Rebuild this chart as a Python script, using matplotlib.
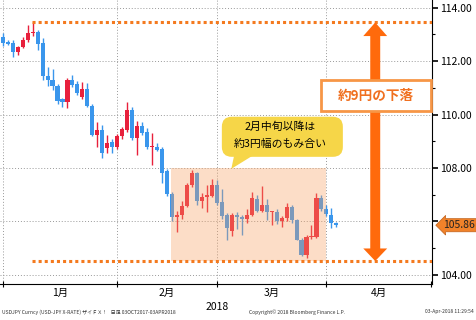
"""
USDJPY daily candles, Jan-Apr 2018, with annotation of the 9-yen drop
"""

import numpy as np
import matplotlib
matplotlib.use('Agg')
import matplotlib.pyplot as plt
from matplotlib.patches import Rectangle, FancyBboxPatch, Polygon
import matplotlib.transforms as mtransforms

plt.rcParams['font.family'] = ['Noto Sans CJK JP', 'DejaVu Sans']

# daily OHLC, 29 Dec 2017 .. 03 Apr 2018 (business days)
opens = [112.92, 112.73, 112.67, 112.34, 112.54, 112.79, 113.06, 113.10, 112.68, 111.45,
         111.30, 111.08, 110.58, 110.49, 111.30, 111.15, 110.67, 110.95, 110.33, 109.24,
         109.43, 108.74, 108.99, 108.80, 109.20, 109.43, 110.18, 109.14, 109.58, 109.36,
         108.77, 108.80, 108.71, 107.88, 107.03, 106.16, 106.25, 106.59, 107.37, 107.81,
         106.75, 106.91, 106.96, 107.37, 106.72, 106.25, 105.66, 106.25, 106.16, 106.09,
         106.25, 106.83, 106.41, 106.60, 106.35, 106.35, 106.00, 106.13, 106.56, 106.06,
         105.32, 104.75, 105.42, 105.43, 106.87, 106.46, 106.25, 105.94]
highs = [113.04, 112.80, 112.80, 112.58, 112.92, 113.35, 113.47, 113.17, 112.85, 111.80,
         111.72, 111.15, 110.62, 111.38, 111.48, 111.25, 111.23, 111.18, 110.40, 109.74,
         109.62, 109.24, 109.10, 109.28, 109.55, 110.49, 110.29, 109.75, 109.74, 109.50,
         109.32, 108.95, 108.78, 107.95, 107.10, 106.40, 106.75, 107.45, 107.93, 107.85,
         107.05, 107.35, 107.58, 107.55, 107.20, 106.30, 106.30, 106.35, 106.25, 106.45,
         107.10, 107.00, 107.31, 106.85, 106.40, 106.45, 106.20, 106.70, 106.60, 106.10,
         105.40, 105.50, 105.88, 107.06, 107.00, 106.60, 106.50, 105.98]
lows = [112.55, 112.60, 112.17, 112.23, 112.50, 112.70, 112.95, 112.42, 111.30, 111.08,
        110.92, 110.40, 110.30, 110.25, 111.05, 110.75, 110.58, 110.30, 109.20, 108.80,
        108.38, 108.57, 108.57, 108.70, 109.10, 109.35, 109.05, 108.49, 109.25, 108.70,
        108.11, 108.62, 107.45, 106.95, 106.00, 105.59, 106.10, 106.55, 107.30, 106.60,
        106.50, 106.35, 106.90, 106.60, 106.10, 105.32, 105.45, 105.70, 105.50, 105.95,
        106.20, 106.35, 106.35, 106.05, 105.88, 105.90, 105.80, 106.00, 105.95, 105.30,
        104.69, 104.63, 105.35, 105.40, 106.40, 106.20, 105.75, 105.80]
closes = [112.67, 112.64, 112.34, 112.54, 112.79, 113.05, 113.10, 112.65, 111.45, 111.30,
          111.08, 110.52, 110.49, 111.30, 111.12, 110.82, 110.95, 110.33, 109.25, 109.43,
          108.58, 108.95, 108.80, 109.20, 109.45, 110.18, 109.14, 109.58, 109.30, 108.77,
          108.81, 108.68, 107.83, 107.03, 106.17, 106.25, 106.59, 107.37, 107.81, 106.75,
          106.91, 107.00, 107.37, 106.69, 106.22, 105.75, 106.25, 106.16, 106.09, 106.25,
          106.87, 106.41, 106.60, 106.35, 106.38, 106.03, 106.13, 106.56, 106.06, 105.32,
          104.75, 105.42, 105.45, 106.87, 106.46, 106.29, 105.96, 105.86]

month_labels = ['1月', '2月', '3月', '4月']
month_ends = [0, 23, 43, 65, 86]      # index of last business day of each month
y_ticks = [104, 106, 108, 110, 112, 114]
y_ticklabels = ['104.00', '', '108.00', '110.00', '112.00', '114.00']
last_price = 105.86
range_top, range_bottom = 113.45, 104.52     # high / low marked by the dotted lines
box_lo, box_hi = 104.52, 108.0               # consolidation band since mid Feb

UP = '#e8203c'
DOWN = '#3a96ec'
ORANGE = '#f47a1f'

W, H = 477, 320
DPI = 100
fig = plt.figure(figsize=(W / DPI, H / DPI), dpi=DPI, facecolor='white')
ax = fig.add_axes([0.0, 1 - 284 / H, 432 / W, 284 / H])

o = np.array(opens)
c = np.array(closes)
hi = np.array(highs)
lo = np.array(lows)
x = np.arange(len(o))
col = np.where(c >= o, UP, DOWN)

ax.vlines(x, lo, hi, colors=col, linewidth=1.0, zorder=2)
body = np.maximum(np.abs(c - o), 0.03)
ax.bar(x, body, bottom=np.minimum(o, c), width=0.82, color=col, linewidth=0, zorder=2)

# consolidation band (drawn over the candles, semi transparent)
ax.add_patch(Rectangle((33.8, box_lo), 65 - 33.8, box_hi - box_lo,
                       facecolor='#f8a060', alpha=0.35, linewidth=0, zorder=3))

# dotted high / low lines
ax.plot([5.8, 86.5], [range_top] * 2, color=ORANGE, lw=2.2,
        linestyle=(0, (1, 1)), zorder=4)
ax.plot([5.8, 86.5], [range_bottom] * 2, color=ORANGE, lw=2.2,
        linestyle=(0, (1, 1)), zorder=4)

# double headed arrow
xc, sw, hw = 74.8, 1.0, 2.4
top_base, bot_base = 112.94, 104.99
arrow = [(xc, range_top), (xc + hw, top_base), (xc + sw, top_base),
         (xc + sw, bot_base), (xc + hw, bot_base), (xc, range_bottom),
         (xc - hw, bot_base), (xc - sw, bot_base), (xc - sw, top_base),
         (xc - hw, top_base)]
ax.add_patch(Polygon(arrow, closed=True, facecolor='#ff6a0c', edgecolor='none', zorder=5))

# label box on the arrow
ax.add_patch(Rectangle((63.9, 110.12), 86.0 - 63.9, 1.16, facecolor='white',
                       edgecolor='#f79646', linewidth=2.0, zorder=6, clip_on=False))
ax.text(75.0, 110.70, '約9円の下落', color='#f07020', fontsize=9.8, fontweight='bold',
        ha='center', va='center', zorder=7)

# yellow callout
ax.add_patch(FancyBboxPatch((44.0, 108.42), 24.3, 1.5,
                            boxstyle='round,pad=0,rounding_size=2',
                            facecolor='#f6d648', edgecolor='none', zorder=6,
                            mutation_aspect=0.186))
ax.add_patch(Polygon([(46.5, 108.5), (50.5, 108.5), (45.9, 107.97)], closed=True,
                     facecolor='#f6d648', edgecolor='none', zorder=6))
ax.text(55.7, 109.56, '2月中旬以降は', fontsize=7.8, ha='center', va='center', zorder=7)
ax.text(55.7, 108.89, '約3円幅のもみ合い', fontsize=7.8, ha='center', va='center', zorder=7)

# axes styling
ax.set_xlim(-0.55, 86.2)
ax.set_ylim(103.66, 114.29)
ax.set_xticks(month_ends)
ax.set_xticklabels([])
ax.set_xticks([(a + b) / 2 for a, b in zip(month_ends[:-1], month_ends[1:])], minor=True)
ax.set_xticklabels(month_labels, minor=True, fontsize=7.5)
ax.tick_params(axis='x', which='major', length=4, direction='inout', width=0.8)
ax.tick_params(axis='x', which='minor', length=0, pad=3)

ax.yaxis.tick_right()
ax.set_yticks(y_ticks)
ax.set_yticklabels(y_ticklabels, fontsize=7.5)
ax.set_yticks([105, 107, 109, 111, 113], minor=True)
ax.tick_params(axis='y', which='major', length=4, width=1.2, pad=2)
ax.tick_params(axis='y', which='minor', length=2.5, width=0.8)

for s in ['top', 'left']:
    ax.spines[s].set_visible(False)
ax.spines['right'].set_linewidth(0.8)
ax.spines['bottom'].set_linewidth(0.8)

for yv in y_ticks:
    ax.axhline(yv, color='#999999', lw=0.7, linestyle=(0, (1, 2)), zorder=1)
for xv in month_ends[:-1]:
    ax.axvline(xv, color='#999999', lw=0.7, linestyle=(0, (1, 2)), zorder=1)

# last price tag
trans = mtransforms.blended_transform_factory(ax.transAxes, ax.transData)
ax.text(1.025, last_price, f'{last_price:.2f}', transform=trans, fontsize=7.5,
        ha='left', va='center', color='#222222', zorder=8, clip_on=False,
        bbox=dict(boxstyle='larrow,pad=0.15', facecolor='#f0822a', edgecolor='#c0601a', lw=0.5))

ax.text(43, -0.065, '2018', transform=mtransforms.blended_transform_factory(ax.transData, ax.transAxes),
        fontsize=7.5, ha='center', va='top')

fig.text(0.005, 0.025, 'USDJPY Curncy (USD-JPY X-RATE) ザイＦＸ！   日足 03OCT2017-03APR2018',
         fontsize=3.6, ha='left', va='center', color='#333333')
fig.text(0.523, 0.025, 'Copyright© 2018 Bloomberg Finance L.P.',
         fontsize=3.6, ha='left', va='center', color='#333333')
fig.text(0.993, 0.025, '03-Apr-2018 11:29:54',
         fontsize=3.6, ha='right', va='center', color='#333333')

fig.savefig('out.png', dpi=DPI, facecolor='white')
